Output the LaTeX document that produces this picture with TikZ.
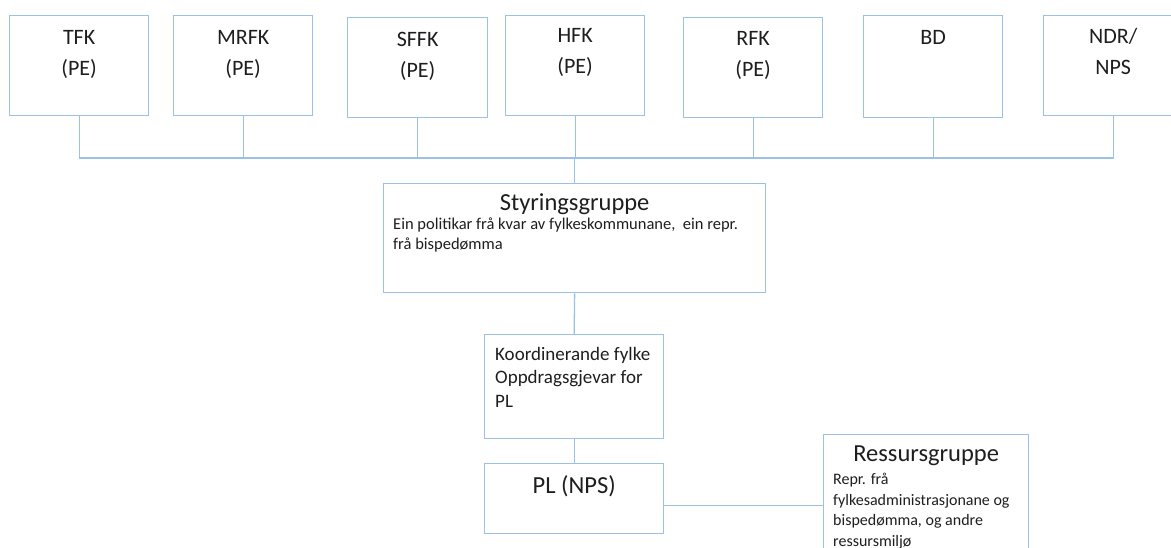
\documentclass[tikz,border=0pt]{standalone}
\usepackage{fontspec}
\setmainfont{Carlito}
\definecolor{boxblue}{RGB}{155,194,230}
\definecolor{txt}{RGB}{30,30,30}
\begin{document}
\begin{tikzpicture}[x=1pt,y=-1pt,
  box/.style={draw=boxblue,line width=1.3pt,rectangle,anchor=north west,inner sep=0pt},
  conn/.style={draw=boxblue,line width=1.3pt},
  toplbl/.style={anchor=north,inner sep=0pt,align=center,text=txt,font=\fontsize{22}{31}\selectfont},
  title/.style={anchor=north,inner sep=0pt,text=txt,font=\fontsize{24.5}{28}\selectfont},
  body/.style={anchor=north west,inner sep=0pt,align=left,text=txt}]
\useasboundingbox (0,0) rectangle (1171,547);
\clip (0,0) rectangle (1171,547);
% top row boxes
\node[box,minimum width=139pt,minimum height=100pt] (tfk) at (9,15) {};
\node[box,minimum width=139pt,minimum height=100pt] (mrfk) at (173,15) {};
\node[box,minimum width=140pt,minimum height=100pt] (sffk) at (347,17) {};
\node[box,minimum width=139pt,minimum height=100pt] (hfk) at (505,15) {};
\node[box,minimum width=139pt,minimum height=100pt] (rfk) at (683,17) {};
\node[box,minimum width=139pt,minimum height=102pt] (bd) at (863,15) {};
\node[box,minimum width=139pt,minimum height=100pt] (ndr) at (1043,15) {};
\node[toplbl] (tfkl) at (tfk.north |- 0,30) {TFK\\(PE)};
\node[toplbl] (mrfkl) at (mrfk.north |- 0,30) {MRFK\\(PE)};
\node[toplbl] (sffkl) at (sffk.north |- 0,32) {SFFK\\(PE)};
\node[toplbl] (hfkl) at (hfk.north |- 0,28) {HFK\\(PE)};
\node[toplbl] (rfkl) at (rfk.north |- 0,31) {RFK\\(PE)};
\node[toplbl] (bdl) at (bd.north |- 0,30) {BD};
\node[toplbl] (ndrl) at (ndr.north |- 0,28) {NDR/\\NPS};
% bus
\coordinate (bus) at (0,158);
\draw[conn] (tfk.south) -- (tfk.south |- bus) -- (ndr.south |- bus) -- (ndr.south);
\foreach \b in {mrfk,sffk,hfk,rfk,bd} \draw[conn] (\b.south) -- (\b.south |- bus);
% Styringsgruppe
\node[box,minimum width=382pt,minimum height=109pt] (styr) at (383,183) {};
\draw[conn] (styr.north) -- (styr.north |- bus);
\node[title] (styrt) at (styr.north |- 0,193) {Styringsgruppe};
\node[body,font=\fontsize{16.5}{19.5}\selectfont] (styrb) at (393,218) {Ein politikar frå kvar av fylkeskommunane,\ \ ein repr.\\frå bispedømma};
% Koordinerande
\node[box,minimum width=179pt,minimum height=104pt] (koord) at (484,334) {};
\node[body,font=\fontsize{19}{23.5}\selectfont] (koordt) at (495,347) {Koordinerande fylke\\Oppdragsgjevar for\\PL};
\draw[conn] (styr.south) -- (koord.north);
% PL
\node[box,minimum width=179pt,minimum height=70pt] (pl) at (484,463) {};
\node[title] (plt) at (pl.north |- 0,475) {PL (NPS)};
\draw[conn] (koord.south) -- (pl.north);
% Ressursgruppe
\node[box,minimum width=205pt,minimum height=130pt] (res) at (823,434) {};
\node[title] (rest) at (res.north |- 0,446) {Ressursgruppe};
\node[body,font=\fontsize{16}{20.5}\selectfont] (resb) at (833,473) {Repr. frå\\fylkesadministrasjonane og\\bispedømma, og andre\\ressursmiljø};
\coordinate (plr) at ([yshift=-7pt]pl.east);
\draw[conn] (plr) -- (res.west |- plr);
\end{tikzpicture}
\end{document}
